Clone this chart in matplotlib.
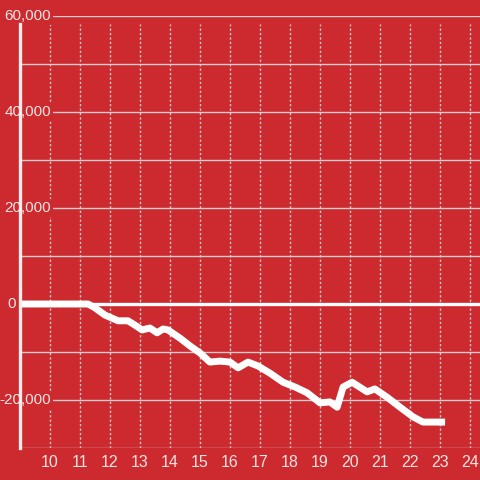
import matplotlib
matplotlib.use("Agg")
import matplotlib.pyplot as plt

# hour of day vs. running balance
hours = [9.0, 11.27, 11.5, 11.83, 12.27, 12.6, 12.83, 13.07, 13.33, 13.57,
         13.77, 13.93, 14.33, 14.67, 15.0, 15.33, 15.67, 16.0, 16.27, 16.6,
         16.93, 17.33, 17.77, 18.17, 18.57, 19.0, 19.33, 19.57, 19.77, 20.07,
         20.57, 20.83, 21.23, 21.67, 22.1, 22.43, 23.17]
values = [0, 0, -800, -2300, -3500, -3500, -4400, -5400, -5000, -6000,
          -5200, -5400, -7100, -8750, -10200, -12100, -11900, -12100, -13300, -12100,
          -12900, -14400, -16300, -17300, -18500, -20600, -20400, -21500, -17300, -16300,
          -18300, -17700, -19400, -21500, -23500, -24600, -24600]

y_labels = [60000, 40000, 20000, 0, -20000]
y_grid = list(range(-30000, 60001, 10000))
x_ticks = list(range(10, 25))

BG = "#cc2a2f"
FG = "#f5e4e4"
GRID = "#d6cccc"
TOP = 58300  # spine and vertical grid stop a little below the top line

plt.rcParams["font.family"] = ["Liberation Sans", "DejaVu Sans"]

fig = plt.figure(figsize=(4.8, 4.8), dpi=100, facecolor=BG)
ax = fig.add_axes([20 / 480, 32 / 480, 460 / 480, 432 / 480])
ax.set_facecolor(BG)
ax.set_xlim(9, 9 + 460 / 30)
ax.set_ylim(-30000, 60000)

# grid lines
ax.hlines(y_grid, 9, 25, color=GRID, linewidth=1, zorder=1)
ax.vlines(x_ticks, -30000, TOP, color=GRID, linewidth=1,
          linestyle=(0, (1.6, 1.6)), zorder=1)

ax.set_xticks(x_ticks)
ax.set_yticks([])
ax.tick_params(axis="x", length=0, colors=FG, labelsize=11.5, pad=5)

for s in ["top", "right", "bottom"]:
    ax.spines[s].set_visible(False)
ax.spines["left"].set_color("#f2eeee")
ax.spines["left"].set_linewidth(2.4)
ax.spines["left"].set_bounds(-30000, TOP)
ax.spines["left"].set_zorder(6)

# zero line and series
ax.axhline(0, color="white", linewidth=2.4, zorder=2)
ax.plot(hours, values, color="white", linewidth=5, solid_joinstyle="round",
        solid_capstyle="butt", zorder=3)

# y labels, boxed so the grid line stops before them
for v in y_labels:
    xpos = 31 / 460 if v != 0 else -4 / 460
    ax.text(xpos, v, f"{v:,}", transform=ax.get_yaxis_transform(),
            ha="right", va="center", color=FG, fontsize=11, zorder=5,
            bbox=dict(boxstyle="square,pad=0.12", facecolor=BG, edgecolor="none"),
            clip_on=False)

fig.savefig("out.png", dpi=100, facecolor=BG)
